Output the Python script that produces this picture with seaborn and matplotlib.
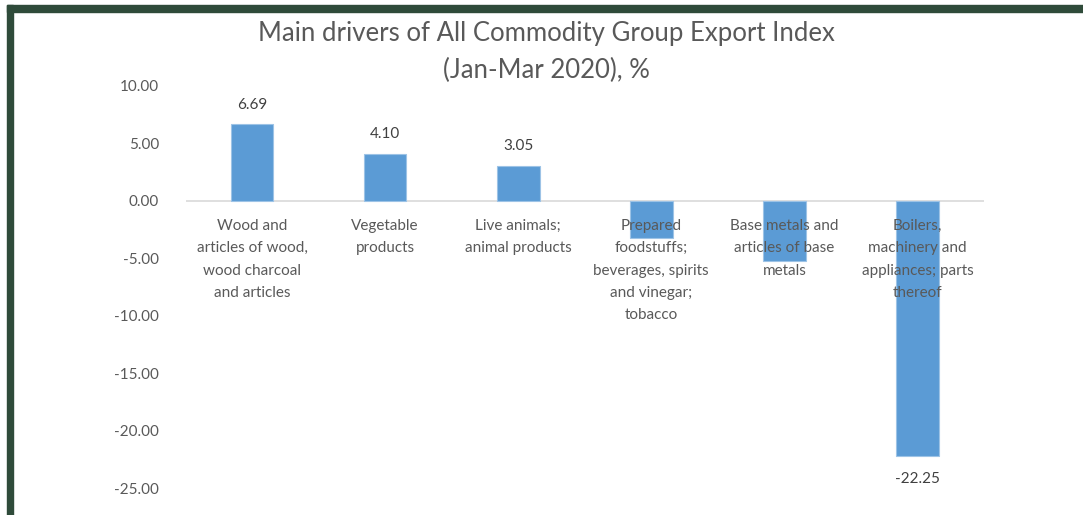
import matplotlib
matplotlib.use("Agg")
import matplotlib.pyplot as plt
import seaborn as sns
import pandas as pd
from matplotlib.patches import Rectangle

categories = [
    "Wood and\narticles of wood,\nwood charcoal\nand articles",
    "Vegetable\nproducts",
    "Live animals;\nanimal products",
    "Prepared\nfoodstuffs;\nbeverages, spirits\nand vinegar;\ntobacco",
    "Base metals and\narticles of base\nmetals",
    "Boilers,\nmachinery and\nappliances; parts\nthereof",
]
values = [6.69, 4.10, 3.05, -3.2, -5.2, -22.25]
shown_labels = ["6.69", "4.10", "3.05", "", "", "-22.25"]
yticks = [10, 5, 0, -5, -10, -15, -20, -25]

sns.set_theme(style="white")
plt.rcParams["font.family"] = ["Lato", "DejaVu Sans"]

W, H = 1083, 515
fig = plt.figure(figsize=(W / 100, H / 100), dpi=100)
fig.patch.set_facecolor("white")

ax = fig.add_axes([185.5 / W, 1 - 488 / H, (984 - 185.5) / W, (488 - 86) / H])

df = pd.DataFrame({"cat": categories, "val": values})
sns.barplot(data=df, x="cat", y="val", color="#5B9BD5", width=0.32,
            edgecolor="#9DC3E6", linewidth=0.8, saturation=1, ax=ax, zorder=2)

ax.set_ylim(-25, 10)
ax.set_xlim(-0.5, len(categories) - 0.5)
ax.set_yticks(yticks)
ax.set_yticklabels([f"{v:.2f}" for v in yticks], color="#595959", fontsize=11)
ax.tick_params(axis="y", length=0, pad=19)
ax.set_xticks([])
ax.set_xlabel("")
ax.set_ylabel("")
for s in ax.spines.values():
    s.set_visible(False)
ax.axhline(0, color="#D9D9D9", lw=1.2, zorder=1)

for i, (c, v, lab) in enumerate(zip(categories, values, shown_labels)):
    ax.annotate(c, (i, 0), xytext=(0, -13), textcoords="offset points",
                ha="center", va="top", fontsize=11, color="#595959",
                linespacing=1.76, zorder=5)
    if lab:
        if v >= 0:
            ax.annotate(lab, (i, v), xytext=(0, 9), textcoords="offset points",
                        ha="center", va="bottom", fontsize=11, color="#404040")
        else:
            ax.annotate(lab, (i, v), xytext=(0, -11), textcoords="offset points",
                        ha="center", va="top", fontsize=11, color="#404040")

fig.text(546 / W, 1 - 52 / H,
         "Main drivers of All Commodity Group Export Index\n(Jan-Mar 2020), %",
         ha="center", va="center", fontsize=18.5, color="#595959", linespacing=1.55)

border = "#2F4B3A"
fig.patches.append(Rectangle((7 / W, 1 - 12 / H), 1 - 7 / W, 7 / H,
                             transform=fig.transFigure, color=border, zorder=10))
fig.patches.append(Rectangle((7 / W, 0), 6 / W, 1 - 5 / H,
                             transform=fig.transFigure, color=border, zorder=10))

fig.savefig("out.png", dpi=100, facecolor="white")
